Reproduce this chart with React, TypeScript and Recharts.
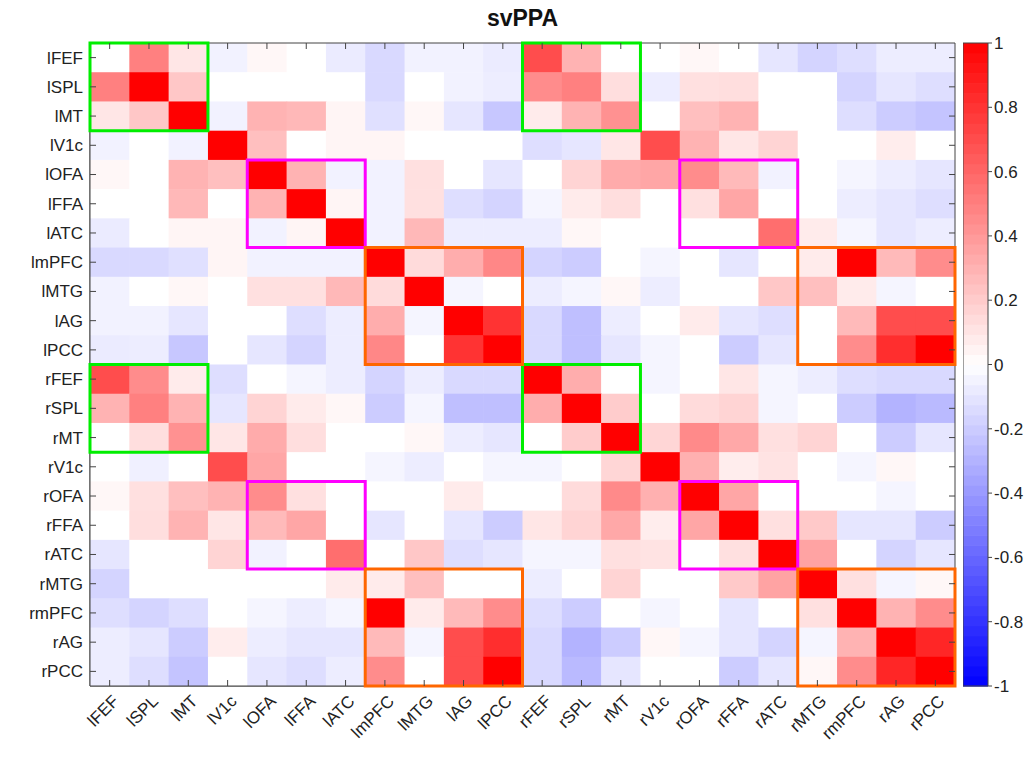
import React from 'react'
import { ScatterChart, Scatter, XAxis, YAxis, ReferenceArea } from 'recharts'

const regions = [
  'lFEF', 'lSPL', 'lMT', 'lV1c', 'lOFA', 'lFFA', 'lATC', 'lmPFC', 'lMTG', 'lAG', 'lPCC',
  'rFEF', 'rSPL', 'rMT', 'rV1c', 'rOFA', 'rFFA', 'rATC', 'rMTG', 'rmPFC', 'rAG', 'rPCC',
]

// correlation rows, one per region (columns in the same order as regions)
const lFEF = [0, 0.5, 0.1, -0.05, 0.03, 0, -0.08, -0.15, -0.05, -0.05, -0.08, 0.7, 0.3, 0, 0, 0.03, 0, -0.1, -0.17, -0.13, -0.07, -0.07]
const lSPL = [0.5, 1, 0.22, 0, 0, 0, 0, -0.15, 0, -0.05, -0.07, 0.45, 0.5, 0.13, -0.07, 0.12, 0.13, 0, 0, -0.17, -0.1, -0.13]
const lMT = [0.1, 0.22, 1, -0.05, 0.3, 0.28, 0.04, -0.12, 0.03, -0.1, -0.22, 0.08, 0.3, 0.43, 0, 0.25, 0.3, 0, 0, -0.13, -0.2, -0.23]
const lV1c = [-0.05, 0, -0.05, 1, 0.25, 0, 0.04, 0.04, 0, 0, 0, -0.13, -0.1, 0.1, 0.7, 0.3, 0.1, 0.17, 0, 0, 0.07, 0]
const lOFA = [0.03, 0, 0.3, 0.25, 1, 0.3, -0.05, -0.05, 0.12, 0, -0.1, 0, 0.17, 0.33, 0.35, 0.45, 0.27, -0.05, 0, -0.04, -0.07, -0.1]
const lFFA = [0, 0, 0.28, 0, 0.3, 1, 0.04, -0.05, 0.12, -0.13, -0.17, -0.04, 0.08, 0.13, 0, 0.12, 0.35, 0, 0, -0.07, -0.1, -0.13]
const lATC = [-0.08, 0, 0.04, 0.04, -0.05, 0.04, 1, -0.05, 0.28, -0.07, -0.07, -0.07, 0.03, 0, 0, 0, 0, 0.57, 0.08, -0.04, -0.1, -0.07]
const lmPFC = [-0.15, -0.15, -0.12, 0.04, -0.05, -0.05, -0.05, 1, 0.14, 0.32, 0.47, -0.17, -0.2, 0, -0.04, 0, -0.1, 0, 0.08, 1, 0.27, 0.45]
const lMTG = [-0.05, 0, 0.03, 0, 0.12, 0.12, 0.28, 0.14, 1, -0.04, 0, -0.07, -0.04, 0.03, -0.07, 0, 0, 0.22, 0.25, 0.08, -0.04, 0]
const lAG = [-0.05, -0.05, -0.1, 0, 0, -0.13, -0.07, 0.32, -0.04, 1, 0.8, -0.15, -0.25, -0.07, 0, 0.08, -0.1, -0.13, 0, 0.27, 0.7, 0.7]
const lPCC = [-0.08, -0.07, -0.22, 0, -0.1, -0.17, -0.07, 0.47, 0, 0.8, 1, -0.15, -0.25, -0.1, -0.04, 0, -0.2, -0.1, 0, 0.45, 0.82, 1]
const rFEF = [0.7, 0.45, 0.08, -0.13, 0, -0.04, -0.07, -0.17, -0.07, -0.15, -0.15, 1, 0.32, 0, -0.04, 0, 0.1, -0.04, -0.07, -0.13, -0.15, -0.15]
const rSPL = [0.3, 0.5, 0.3, -0.1, 0.17, 0.08, 0.03, -0.2, -0.04, -0.25, -0.25, 0.32, 1, 0.2, 0, 0.14, 0.17, -0.04, 0, -0.2, -0.3, -0.27]
const rMT = [0, 0.13, 0.43, 0.1, 0.33, 0.13, 0, 0, 0.03, -0.07, -0.1, 0, 0.2, 1, 0.16, 0.46, 0.34, 0.12, 0.17, 0, -0.2, -0.1]
const rV1c = [0, -0.06, 0, 0.7, 0.35, 0, 0, -0.04, -0.07, 0, -0.04, -0.04, 0, 0.16, 1, 0.31, 0.07, 0.11, 0, -0.04, 0.03, 0]
const rOFA = [0.03, 0.12, 0.25, 0.3, 0.45, 0.12, 0, 0, 0, 0.08, 0, 0, 0.14, 0.46, 0.31, 1, 0.35, 0, 0, 0, -0.04, 0]
const rFFA = [0, 0.13, 0.3, 0.1, 0.27, 0.35, 0, -0.1, 0, -0.1, -0.2, 0.1, 0.17, 0.34, 0.07, 0.35, 1, 0.12, 0.21, -0.1, -0.1, -0.2]
const rATC = [-0.1, 0, 0, 0.17, -0.05, 0, 0.57, 0, 0.22, -0.13, -0.1, -0.04, -0.04, 0.12, 0.11, 0, 0.12, 1, 0.36, 0, -0.17, -0.1]
const rMTG = [-0.17, 0, 0, 0, 0, 0, 0.08, 0.08, 0.25, 0, 0, -0.07, 0, 0.17, 0, 0, 0.21, 0.36, 1, 0.12, -0.04, 0.03]
const rmPFC = [-0.13, -0.17, -0.13, 0, -0.04, -0.07, -0.04, 1, 0.08, 0.27, 0.45, -0.13, -0.2, 0, -0.04, 0, -0.1, 0, 0.12, 1, 0.3, 0.45]
const rAG = [-0.07, -0.1, -0.2, 0.07, -0.07, -0.1, -0.1, 0.27, -0.04, 0.7, 0.82, -0.15, -0.3, -0.2, 0.03, -0.04, -0.1, -0.17, -0.04, 0.3, 1, 0.85]
const rPCC = [-0.07, -0.13, -0.23, 0, -0.1, -0.13, -0.07, 0.45, 0, 0.7, 1, -0.15, -0.27, -0.1, 0, 0, -0.2, -0.1, 0.03, 0.45, 0.85, 1]

const rows = [lFEF, lSPL, lMT, lV1c, lOFA, lFFA, lATC, lmPFC, lMTG, lAG, lPCC,
  rFEF, rSPL, rMT, rV1c, rOFA, rFFA, rATC, rMTG, rmPFC, rAG, rPCC]

// highlighted blocks: [first row, first col]
const greenBoxes = [[0, 0], [0, 11], [11, 0], [11, 11]]
const magentaBoxes = [[4, 4], [4, 15], [15, 4], [15, 15]]
const orangeBoxes = [[7, 7], [7, 18], [18, 7], [18, 18]]

const colorbarTicks = [-1, -0.8, -0.6, -0.4, -0.2, 0, 0.2, 0.4, 0.6, 0.8, 1]

const cells = rows.flatMap((row, r) => row.map((v, c) => ({ x: c, y: r, v })))

const FONT = '"Liberation Sans", Arial, Helvetica, sans-serif'
const PW = 865
const PH = 643
const CW = PW / 22
const CH = PH / 22
const NBINS = 64

const bwr = (v: number) => {
  const t = Math.max(-1, Math.min(1, v))
  if (t >= 0) {
    const g = Math.round(255 * (1 - t))
    return `rgb(255,${g},${g})`
  }
  const g = Math.round(255 * (1 + t))
  return `rgb(${g},${g},255)`
}

// colormap steps for the colorbar (bin centres)
const bins = Array.from({ length: NBINS }, (_, i) => ({ x: 0.5, y: -1 + (i + 0.5) * 2 / NBINS }))

const Cell = (props: any) => {
  const { cx, cy, payload } = props
  return <rect x={cx - CW / 2} y={cy - CH / 2} width={CW + 0.6} height={CH + 0.6} fill={bwr(payload.v)} />
}

const BinShape = (props: any) => {
  const { cx, cy, payload } = props
  const h = PH / NBINS
  return <rect x={cx - 12.5} y={cy - h / 2} width={25} height={h + 0.6} fill={bwr(payload.y)} />
}

const XTick = (props: any) => {
  const { x, y, payload } = props
  const tx = x + 6
  const ty = y + 12
  return (
    <g>
      <line x1={x} y1={y} x2={x} y2={y - 6} stroke="#444" />
      <line x1={x} y1={y - PH} x2={x} y2={y - PH + 6} stroke="#444" />
      <text x={tx} y={ty} dy="0.35em" textAnchor="end" fontSize={17} fontFamily={FONT} fill="#222"
        transform={`rotate(-45, ${tx}, ${ty})`}>
        {regions[payload.value]}
      </text>
    </g>
  )
}

const YTick = (props: any) => {
  const { x, y, payload } = props
  return (
    <g>
      <line x1={x} y1={y} x2={x + 6} y2={y} stroke="#444" />
      <line x1={x + PW} y1={y} x2={x + PW - 6} y2={y} stroke="#444" />
      <text x={x - 7} y={y} dy="0.35em" textAnchor="end" fontSize={17} fontFamily={FONT} fill="#222">
        {regions[payload.value]}
      </text>
    </g>
  )
}

const boxes = (list: number[][], n: number, color: string) =>
  list.map(([r, c]) => (
    <ReferenceArea key={`${color}-${r}-${c}`} x1={c - 0.5} x2={c + n - 0.5} y1={r - 0.5} y2={r + n - 0.5}
      fill="none" fillOpacity={0} stroke={color} strokeWidth={3} strokeOpacity={1} ifOverflow="visible" zIndex={1000} />
  ))

const App: React.FC = () => {
  const idx = regions.map((_, i) => i)
  return (
    <div style={{ position: 'absolute', left: 0, top: 0, width: 1032, height: 757, background: '#fff', fontFamily: FONT }}>
      <div style={{ position: 'absolute', left: 90, width: PW, top: 5, textAlign: 'center', fontSize: 23, fontWeight: 'bold', color: '#111' }}>
        svPPA
      </div>
      <div style={{ position: 'absolute', left: 0, top: 0 }}>
        <ScatterChart width={1032} height={757} margin={{ top: 43, right: 77, bottom: 6, left: 10 }}>
          <XAxis dataKey="x" type="number" domain={[-0.5, 21.5]} ticks={idx} interval={0} height={65}
            tickSize={0} tickMargin={0} tickLine={false} tick={<XTick />} axisLine={{ stroke: '#444' }} allowDataOverflow />
          <YAxis dataKey="y" type="number" domain={[-0.5, 21.5]} ticks={idx} interval={0} reversed width={80}
            tickSize={0} tickMargin={0} tickLine={false} tick={<YTick />} axisLine={{ stroke: '#444' }} allowDataOverflow />
          <Scatter data={cells} shape={<Cell />} isAnimationActive={false} />
          <ReferenceArea x1={-0.5} x2={21.5} y1={-0.5} y2={21.5} fill="none" fillOpacity={0} stroke="#444" strokeWidth={1} zIndex={900} />
          {boxes(greenBoxes, 3, '#00ee00')}
          {boxes(magentaBoxes, 3, '#ff00ff')}
          {boxes(orangeBoxes, 4, '#ff6600')}
        </ScatterChart>
      </div>
      <div style={{ position: 'absolute', left: 963, top: 33 }}>
        <ScatterChart width={69} height={663} margin={{ top: 10, right: 0, bottom: 10, left: 0 }}>
          <XAxis dataKey="x" type="number" domain={[0, 1]} hide />
          <YAxis dataKey="y" type="number" orientation="right" domain={[-1, 1]} ticks={colorbarTicks} interval={0} width={44}
            tickFormatter={(v: number) => String(Math.round(v * 10) / 10)}
            tick={{ fontSize: 17, fontFamily: FONT, fill: '#222' }} tickSize={4} tickMargin={2}
            axisLine={false} tickLine={{ stroke: '#444' }} />
          <Scatter data={bins} shape={<BinShape />} isAnimationActive={false} />
          <ReferenceArea x1={0} x2={1} y1={-1} y2={1} fill="none" fillOpacity={0} stroke="#444" strokeWidth={1} zIndex={1000} />
        </ScatterChart>
      </div>
    </div>
  )
}

export default App
